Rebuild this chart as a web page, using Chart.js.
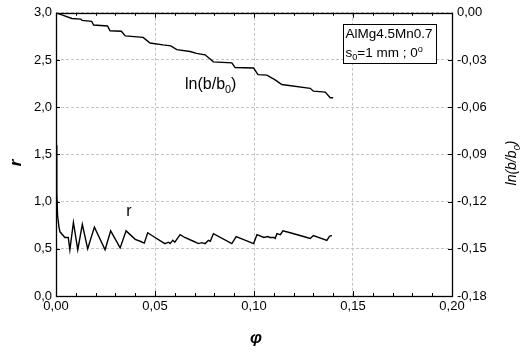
<!DOCTYPE html>
<html>
<head>
<meta charset="utf-8">
<script src="https://cdn.jsdelivr.net/npm/chart.js@4/dist/chart.umd.min.js"></script>
<style>
html,body{margin:0;padding:0;background:#fff;}
#wrap{width:520px;height:353px;position:relative;}
</style>
</head>
<body>
<div id="wrap"><canvas id="c" width="520" height="353"></canvas></div>
<script>
// ---- data ----
const rPhi = [0, 0.0004, 0.0008, 0.0015, 0.002, 0.0045, 0.0062, 0.007, 0.0088, 0.011, 0.0133, 0.016, 0.0194, 0.0248, 0.0276, 0.0324, 0.0354, 0.040, 0.0425, 0.0446, 0.0463, 0.050, 0.055, 0.0568, 0.0576, 0.059, 0.060, 0.061, 0.0627, 0.065, 0.0694, 0.072, 0.0737, 0.0753, 0.077, 0.0779, 0.0795, 0.0888, 0.091, 0.0998, 0.1015, 0.105, 0.107, 0.108, 0.110, 0.1107, 0.1116, 0.1133, 0.1146, 0.1183, 0.125, 0.1284, 0.130, 0.1368, 0.1382, 0.1394];
const rValues = [1.6, 1.1, 0.85, 0.73, 0.68, 0.62, 0.62, 0.49, 0.78, 0.49, 0.76, 0.50, 0.73, 0.49, 0.69, 0.51, 0.69, 0.60, 0.58, 0.56, 0.67, 0.62, 0.555, 0.57, 0.555, 0.59, 0.57, 0.60, 0.65, 0.62, 0.58, 0.555, 0.565, 0.555, 0.59, 0.58, 0.66, 0.555, 0.63, 0.555, 0.65, 0.62, 0.63, 0.62, 0.62, 0.61, 0.66, 0.65, 0.69, 0.67, 0.63, 0.61, 0.64, 0.59, 0.635, 0.64];
const lnPhi = [0, 0.004, 0.008, 0.0125, 0.0132, 0.018, 0.019, 0.026, 0.0273, 0.033, 0.035, 0.044, 0.0475, 0.054, 0.058, 0.061, 0.0677, 0.071, 0.0753, 0.0795, 0.0888, 0.0905, 0.0998, 0.102, 0.1065, 0.1107, 0.114, 0.1284, 0.130, 0.136, 0.1385, 0.140];
const lnValues = [0, -0.0018, -0.0036, -0.0040, -0.0048, -0.0054, -0.0078, -0.0084, -0.0114, -0.0117, -0.0147, -0.0156, -0.0192, -0.0204, -0.0210, -0.0234, -0.0246, -0.0258, -0.0267, -0.0312, -0.0318, -0.0348, -0.0351, -0.0393, -0.0396, -0.0426, -0.0456, -0.0480, -0.0498, -0.0504, -0.0540, -0.0540];
const xTicks = [0, 0.05, 0.10, 0.15, 0.20];
const yTicks = [0, 0.5, 1.0, 1.5, 2.0, 2.5, 3.0];
const y2Ticks = [-0.18, -0.15, -0.12, -0.09, -0.06, -0.03, 0];
const legendLine1 = "AlMg4.5Mn0.7";
const xTitle = "φ";
const yTitle = "r";

const fmt = (v, d) => v.toFixed(d).replace('.', ',');
const FONT = '"Liberation Sans", Arial, sans-serif';

function drawSub(ctx, parts, x, y, size, align) {
  // parts: [text, mode] mode: 'n' normal, 's' subscript, 'p' superscript
  let total = 0;
  const widths = parts.map(([t, m]) => {
    ctx.font = (m === 'n' ? size : size * 0.68) + 'px ' + ctx._fam;
    const w = ctx.measureText(t).width; total += w; return w;
  });
  let cx = align === 'center' ? x - total / 2 : x;
  parts.forEach(([t, m], i) => {
    ctx.font = ctx._style + (m === 'n' ? size : size * 0.68) + 'px ' + ctx._fam;
    const dy = m === 's' ? size * 0.25 : (m === 'p' ? -size * 0.4 : 0);
    ctx.textAlign = 'left';
    ctx.fillText(t, cx, y + dy);
    cx += widths[i];
  });
}

const deco = {
  id: 'deco',
  afterDraw(chart) {
    const ctx = chart.ctx;
    const a = chart.chartArea;
    const xs = chart.scales.x, ys = chart.scales.y;
    ctx.save();
    ctx.strokeStyle = '#000';
    ctx.lineWidth = 1;
    // minor/major ticks on x (bottom & top, inward)
    for (let i = 0; i <= 20; i++) {
      const px = Math.round(xs.getPixelForValue(i * 0.01)) + 0.5;
      const len = (i % 5 === 0) ? 5 : 3;
      ctx.beginPath();
      ctx.moveTo(px, a.bottom); ctx.lineTo(px, a.bottom - len);
      ctx.moveTo(px, a.top); ctx.lineTo(px, a.top + len);
      ctx.stroke();
    }
    // major ticks on y sides
    yTicks.forEach(v => {
      const py = Math.round(ys.getPixelForValue(v)) + 0.5;
      ctx.beginPath();
      ctx.moveTo(a.left, py); ctx.lineTo(a.left + 4, py);
      ctx.moveTo(a.right, py); ctx.lineTo(a.right - 4, py);
      ctx.stroke();
    });
    // frame
    ctx.lineWidth = 1.3;
    ctx.strokeRect(Math.round(a.left) + 0.5, Math.round(a.top) + 0.5, Math.round(a.right - a.left), Math.round(a.bottom - a.top));

    ctx.fillStyle = '#000';
    ctx.textBaseline = 'alphabetic';
    ctx._fam = FONT;
    // curve labels
    ctx._style = '';
    drawSub(ctx, [['ln(b/b', 'n'], ['0', 's'], [')', 'n']], 185, 89, 16, 'left');
    ctx.font = '16px ' + FONT;
    ctx.textAlign = 'center';
    ctx.fillText('r', 129, 216);

    // legend box
    ctx.fillStyle = '#fff';
    ctx.fillRect(343, 24, 93, 39);
    ctx.lineWidth = 1;
    ctx.strokeStyle = '#000';
    ctx.strokeRect(343.5, 24.5, 93, 39);
    ctx.fillStyle = '#000';
    ctx.font = '13.5px ' + FONT;
    ctx.textAlign = 'left';
    ctx.fillText(legendLine1, 345.5, 38);
    drawSub(ctx, [['s', 'n'], ['0', 's'], ['=1 mm ; 0', 'n'], ['o', 'p']], 345.5, 57, 13.5, 'left');

    // axis titles
    ctx.font = 'italic bold 17px ' + FONT;
    ctx.textAlign = 'center';
    ctx.fillText(xTitle, 256, 343);
    ctx.save();
    ctx.translate(21, 163);
    ctx.rotate(-Math.PI / 2);
    ctx.font = 'italic bold 17px ' + FONT;
    ctx.fillText(yTitle, 0, 0);
    ctx.restore();
    ctx.save();
    ctx.translate(516, 163);
    ctx.rotate(-Math.PI / 2);
    ctx._style = 'italic ';
    ctx.font = 'italic 14px ' + FONT;
    const tw = (() => { ctx.font = 'italic 14px ' + FONT; let w = ctx.measureText('ln(b/b)').width; ctx.font = 'italic 9.5px ' + FONT; return w + ctx.measureText('0').width; })();
    drawSub(ctx, [['ln(b/b', 'n'], ['0', 's'], [')', 'n']], -tw / 2, 0, 14, 'left');
    ctx.restore();
    ctx.restore();
  }
};

new Chart(document.getElementById('c'), {
  type: 'line',
  data: {
    datasets: [
      {
        label: 'r',
        data: rPhi.map((p, i) => ({x: p, y: rValues[i]})),
        yAxisID: 'y',
        borderColor: '#000', borderWidth: 1.4, pointRadius: 0, tension: 0, fill: false
      },
      {
        label: 'ln(b/b0)',
        data: lnPhi.map((p, i) => ({x: p, y: lnValues[i]})),
        yAxisID: 'y2',
        borderColor: '#000', borderWidth: 1.4, pointRadius: 0, tension: 0, fill: false
      }
    ]
  },
  options: {
    responsive: false,
    animation: false,
    devicePixelRatio: 1,
    layout: {padding: {top: 11, left: 0, right: 0, bottom: 0}},
    plugins: {legend: {display: false}, tooltip: {enabled: false}},
    scales: {
      x: {
        type: 'linear', min: 0, max: 0.2,
        afterBuildTicks: s => { s.ticks = xTicks.map(v => ({value: v})); },
        afterFit: s => { s.height = 57; },
        ticks: {callback: v => fmt(v, 2), color: '#000', font: {size: 13, family: FONT}, padding: 3, maxRotation: 0},
        grid: {color: '#c4c4c4', lineWidth: 1, drawTicks: false, tickLength: 0},
        border: {display: false, dash: [3, 2]}
      },
      y: {
        type: 'linear', position: 'left', min: 0, max: 3,
        afterBuildTicks: s => { s.ticks = yTicks.map(v => ({value: v})); },
        afterFit: s => { s.width = 56; },
        ticks: {callback: v => fmt(v, 1), color: '#000', font: {size: 13, family: FONT}, padding: 4},
        grid: {color: '#c4c4c4', lineWidth: 1, drawTicks: false, tickLength: 0},
        border: {display: false, dash: [3, 2]}
      },
      y2: {
        type: 'linear', position: 'right', min: -0.18, max: 0,
        afterBuildTicks: s => { s.ticks = y2Ticks.map(v => ({value: v})); },
        afterFit: s => { s.width = 68; },
        ticks: {callback: v => fmt(v, 2), color: '#000', font: {size: 13, family: FONT}, padding: 5},
        grid: {display: false, drawTicks: false, tickLength: 0},
        border: {display: false}
      }
    }
  },
  plugins: [deco]
});
</script>
</body>
</html>
